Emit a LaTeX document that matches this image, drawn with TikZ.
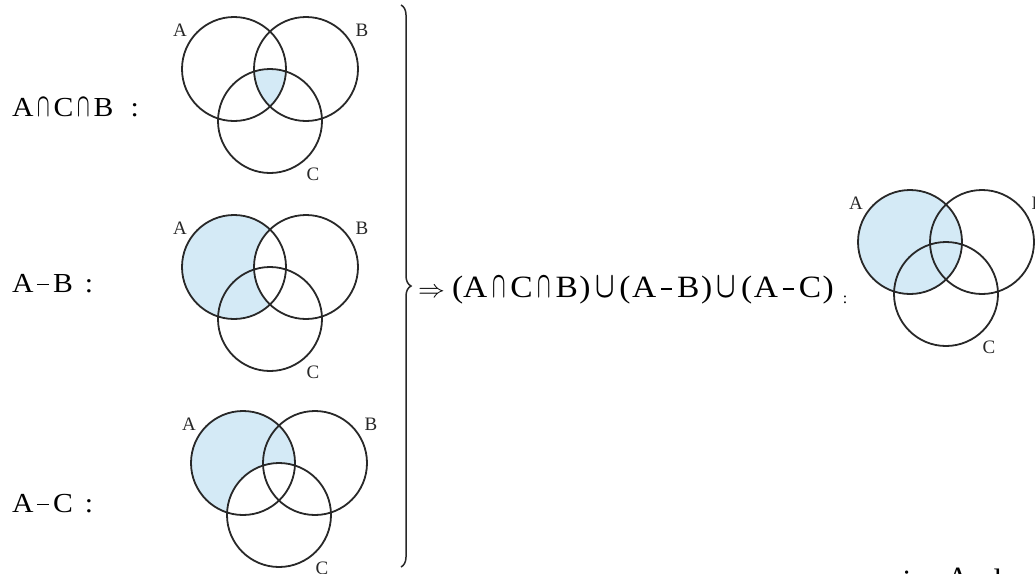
\documentclass[tikz,border=0pt]{standalone}
\usepackage{fontspec}
\setmainfont{Liberation Serif}
\usepackage{graphicx}
\usetikzlibrary{decorations.pathreplacing}
\definecolor{shadeblue}{RGB}{212,234,246}
\definecolor{ink}{RGB}{40,40,40}
\newcommand{\icap}{\resizebox{0.42em}{0.66em}{\boldmath$\cap$}}
\newcommand{\fcap}{\resizebox{0.4em}{0.66em}{\boldmath$\cap$}}
\newcommand{\fcup}{\resizebox{0.58em}{0.66em}{\boldmath$\cup$}}
\newcommand{\imin}{\raisebox{0.24em}{\rule{0.4em}{0.05em}}}
\newcommand{\fmin}{\raisebox{0.24em}{\rule{0.34em}{0.05em}}}
\newcommand{\gp}{\hspace{3.5pt}}
\newcommand{\og}{\hspace{4.4pt}}
\newcommand{\pg}{\hspace{1.4pt}}
% Venn diagram: #1,#2 = centre of circle A
\newcommand{\vennlines}[2]{%
  \draw[circ] (#1,#2) circle[radius=52];
  \draw[circ] (#1+72,#2) circle[radius=52];
  \draw[circ] (#1+36,#2+52) circle[radius=52];
  \node[setlab] at (#1-54,#2-39) {A};
  \node[setlab] at (#1+128,#2-39) {B};
  \node[setlab] at (#1+79,#2+105) {C};
}
\begin{document}
\begin{tikzpicture}[x=1pt,y=-1pt,
  circ/.style={draw=ink,line width=1.8pt},
  setlab/.style={inner sep=0pt,font=\fontsize{19pt}{21pt}\selectfont,text=ink},
  biglab/.style={inner sep=0pt,anchor=base west,font=\fontsize{27.5pt}{30pt}\selectfont},
  formula/.style={inner sep=0pt,anchor=base west,font=\fontsize{31pt}{34pt}\selectfont},
  bracestyle/.style={draw=ink,line width=1.5pt,decorate,decoration={brace,amplitude=10pt}}]
\useasboundingbox (0,0) rectangle (1035,573);

% ---- 1: A cap C cap B
\node[biglab] (l1) at (12,116) {\scalebox{1.08}[1]{A\gp\icap\gp C\gp\icap\gp B\hspace{16pt}:}};
\begin{scope}
  \clip (234,69) circle[radius=52];
  \clip (306,69) circle[radius=52];
  \fill[shadeblue] (270,121) circle[radius=52];
\end{scope}
\vennlines{234}{69}

% ---- 2: A - B
\node[biglab] (l2) at (12,292) {\scalebox{1.08}[1]{A\gp\imin\gp B\hspace{11pt}:}};
\fill[shadeblue] (234,267) circle[radius=52];
\fill[white] (306,267) circle[radius=52];
\vennlines{234}{267}

% ---- 3: A - C
\node[biglab] (l3) at (12,512) {\scalebox{1.08}[1]{A\gp\imin\gp C\hspace{11pt}:}};
\fill[shadeblue] (243,463) circle[radius=52];
\fill[white] (279,515) circle[radius=52];
\vennlines{243}{463}

% ---- brace
\coordinate (bt) at (401,5);
\coordinate (bb) at (401,567);
\draw[bracestyle] (bt) -- (bb);

% ---- formula
\node[formula] (f) at (418,297) {\scalebox{1.08}[1]{$\Rightarrow$\hspace{6.5pt}(A\og\fcap\og C\og\fcap\og B\pg)\og\fcup\og(\pg A\og\fmin\og B\pg)\og\fcup\og(\pg A\og\fmin\og C\pg)}};
\node[inner sep=0pt,font=\fontsize{16pt}{18pt}\selectfont] (colon) at (845,300) {:};

% ---- result
\fill[shadeblue] (910,242) circle[radius=52];
\vennlines{910}{242}

% ---- cut-off text at bottom edge
\node[formula,anchor=base] (t1) at (907,591) {i};
\node[formula,anchor=base] (t2) at (958,588) {A};
\node[formula,anchor=base] (t3) at (998,590) {l};
\end{tikzpicture}
\end{document}
